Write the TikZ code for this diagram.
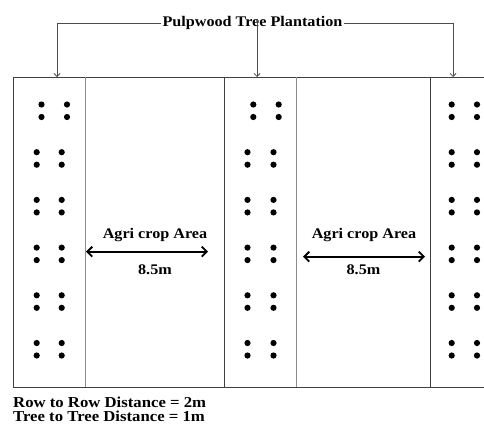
\documentclass[tikz,border=0pt]{standalone}
\usepackage{fontspec}
\setmainfont{Liberation Serif}[FakeStretch=1.1]
\usetikzlibrary{arrows.meta}
\begin{document}
\begin{tikzpicture}[x=1pt,y=-1pt,
  lbl/.style={font=\fontsize{14.7}{16}\selectfont\bfseries, inner sep=1pt},
  note/.style={font=\fontsize{15.2}{16}\selectfont\bfseries, inner sep=0pt, anchor=base west},
  feed/.style={draw=black!70, line width=0.8pt, -{Straight Barb[length=3pt,width=6pt]}},
  span/.style={line width=1.8pt, {Straight Barb[length=5pt,width=10pt]}-{Straight Barb[length=5pt,width=10pt]}},
  border/.style={draw=black!75, line width=1pt},
  lane/.style={draw=black!45, line width=0.9pt}]
\useasboundingbox (0,0) rectangle (484,426);

% field outline: top and bottom edges
\draw[border] (13,77) -- (484,77);
\draw[border] (13,387) -- (484,387);
% tree strips (dark edges) and crop lanes (light edges)
\foreach \x in {13,224,430} \draw[border] (\x,77) -- (\x,387);
\foreach \x in {85,296} \draw[lane] (\x,77) -- (\x,387);

% paired tree rows in each strip
\newcommand{\treepair}[3]{%
  \fill (#1,#3) circle (3.1); \fill (#2,#3) circle (3.1);
  \fill (#1,#3+12.5) circle (3.1); \fill (#2,#3+12.5) circle (3.1);}
\treepair{41.5}{67}{104.5}
\treepair{253.3}{278.7}{104.5}
\treepair{451.7}{477}{104.5}
\foreach \y in {152.2,199.9,247.6,295.3,343} {
  \treepair{36.7}{61.7}{\y}
  \treepair{247.5}{273.5}{\y}
  \treepair{451.7}{477}{\y}
}

% title and its pointers to the tree strips
\node[lbl] (title) at (252.5,23) {Pulpwood Tree Plantation};
\coordinate (s1) at (57,77);
\coordinate (s2) at (257,77);
\coordinate (s3) at (453,77);
\coordinate (s2top) at (257,19);
\draw[feed] (title.west) -| (s1);
\draw[feed] (s2top) -- (s2);
\draw[feed] (title.east) -| (s3);

% crop lanes
\node[lbl, anchor=base] (crop1) at (155,238.3) {Agri crop Area};
\node[lbl, anchor=base] (w1) at (155,274) {8.5m};
\coordinate (a1l) at (86,251.7);
\coordinate (a1r) at (208,251.7);
\draw[span] (a1l) -- (a1r);

\node[lbl, anchor=base] (crop2) at (364,238.3) {Agri crop Area};
\node[lbl, anchor=base] (w2) at (363.5,274) {8.5m};
\coordinate (a2l) at (303,256.7);
\coordinate (a2r) at (425,256.7);
\draw[span] (a2l) -- (a2r);

% spacing notes
\node[note] (n1) at (13,407.5) {Row to Row Distance = 2m};
\node[note] (n2) at (13,421.5) {Tree to Tree Distance = 1m};
\end{tikzpicture}
\end{document}
